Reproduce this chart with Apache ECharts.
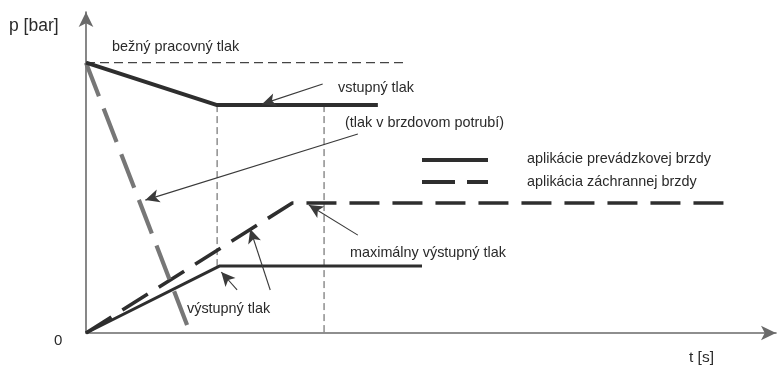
<!DOCTYPE html>
<html>
<head>
<meta charset="utf-8">
<script src="https://cdn.jsdelivr.net/npm/echarts@6/dist/echarts.min.js"></script>
<style>
  html, body { margin: 0; padding: 0; background: #fff; }
  #chart { width: 779px; height: 367px; }
</style>
</head>
<body>
<div id="chart"></div>
<script>
// Schematic in abstract units: t axis 0..100, p axis 0..100
const normalPressure = [[0, 84.2], [46.4, 84.2]];          // bežný pracovný tlak
const serviceInput   = [[0, 84.2], [19.0, 71.0], [42.3, 71.0]];   // vstupný tlak
const serviceOutput  = [[0, 0], [19.4, 20.9], [48.7, 20.9]];      // výstupný tlak
const emergencyOutput = [[0, 0], [29.9, 40.5], [94.2, 40.5]];     // maximálny výstupný tlak
const emergencyPipe  = [[0, 84.2], [15.1, 0]];                    // tlak v brzdovom potrubí
const guide1 = [[19.0, 71.0], [19.0, 20.9]];
const guide2 = [[34.5, 71.0], [34.5, 0]];
const arrows = [
  [[34.3, 77.6], [25.5, 71.3]],
  [[39.4, 62.0], [8.6, 41.4]],
  [[39.4, 30.5], [32.3, 39.9]],
  [[21.9, 13.4], [19.6, 19.0]],
  [[26.7, 13.4], [23.8, 32.4]]
];
const legendNames = ['aplikácie prevádzkovej brzdy', 'aplikácia záchrannej brzdy'];
const labels = [
  { text: 'p [bar]', x: 9, y: 26, size: 17.5 },
  { text: 'bežný pracovný tlak', x: 112, y: 47 },
  { text: 'vstupný tlak', x: 338, y: 88 },
  { text: '(tlak v brzdovom potrubí)', x: 345, y: 123 },
  { text: 'maximálny výstupný tlak', x: 350, y: 253 },
  { text: 'výstupný tlak', x: 187, y: 309 },
  { text: '0', x: 54, y: 341, size: 15 },
  { text: 't [s]', x: 689, y: 358, size: 15.5 }
];

const FONT = '"Liberation Sans", Arial, sans-serif';
const chart = echarts.init(document.getElementById('chart'), null, { renderer: 'canvas' });

const axisCommon = {
  type: 'value', min: 0, max: 100,
  splitLine: { show: false }, axisTick: { show: false }, axisLabel: { show: false },
  axisLine: { show: true, onZero: false, symbol: ['none', 'arrow'], symbolSize: [11, 15],
    lineStyle: { color: '#6a6a6a', width: 1.6 } }
};

const dark = '#2e2e2e';
const textColor = '#2a2a2a';

const graphics = labels.map(l => ({
  type: 'text', x: l.x, y: l.y,
  style: { text: l.text, fontFamily: FONT, fontSize: l.size || 14.4, fill: textColor, verticalAlign: 'middle' }
}));
// legend samples and texts
graphics.push(
  { type: 'line', shape: { x1: 422, y1: 160, x2: 488, y2: 160 },
    style: { stroke: dark, lineWidth: 4 } },
  { type: 'line', shape: { x1: 422, y1: 182, x2: 488, y2: 182 },
    style: { stroke: dark, lineWidth: 4, lineDash: [33, 12] } },
  { type: 'text', x: 527, y: 159,
    style: { text: legendNames[0], fontFamily: FONT, fontSize: 14.4, fill: textColor, verticalAlign: 'middle' } },
  { type: 'text', x: 527, y: 182,
    style: { text: legendNames[1], fontFamily: FONT, fontSize: 14.4, fill: textColor, verticalAlign: 'middle' } }
);

chart.setOption({
  animation: false,
  backgroundColor: '#fff',
  grid: { left: 86, right: 3, top: 12, bottom: 34, containLabel: false },
  xAxis: axisCommon,
  yAxis: axisCommon,
  graphic: graphics,
  series: [
    { name: 'normal', type: 'line', data: normalPressure, symbol: 'none',
      lineStyle: { color: '#444', width: 1.3, type: [9, 5] } },
    { name: 'guide1', type: 'line', data: guide1, symbol: 'none',
      lineStyle: { color: '#555', width: 1, type: [7, 4] } },
    { name: 'guide2', type: 'line', data: guide2, symbol: 'none',
      lineStyle: { color: '#555', width: 1, type: [7, 4] } },
    { name: legendNames[1], type: 'line', data: emergencyOutput, symbol: 'none',
      lineStyle: { color: dark, width: 3.6, type: [30, 13] } },
    { name: 'pipe', type: 'line', data: emergencyPipe, symbol: 'none',
      lineStyle: { color: '#777', width: 4.2, type: [36, 13] } },
    { name: legendNames[0], type: 'line', data: serviceInput, symbol: 'none',
      lineStyle: { color: dark, width: 4, type: 'solid' } },
    { name: legendNames[0] + ' ', type: 'line', data: serviceOutput, symbol: 'none',
      lineStyle: { color: dark, width: 3, type: 'solid' } },
    { name: 'arrows', type: 'line', data: [], symbol: 'none',
      markLine: {
        silent: true, animation: false,
        symbol: ['none', 'arrow'], symbolSize: [10, 14],
        label: { show: false },
        lineStyle: { color: '#3a3a3a', width: 1.1, type: 'solid' },
        data: arrows.map(a => [{ coord: a[0] }, { coord: a[1] }])
      } }
  ]
});
</script>
</body>
</html>
